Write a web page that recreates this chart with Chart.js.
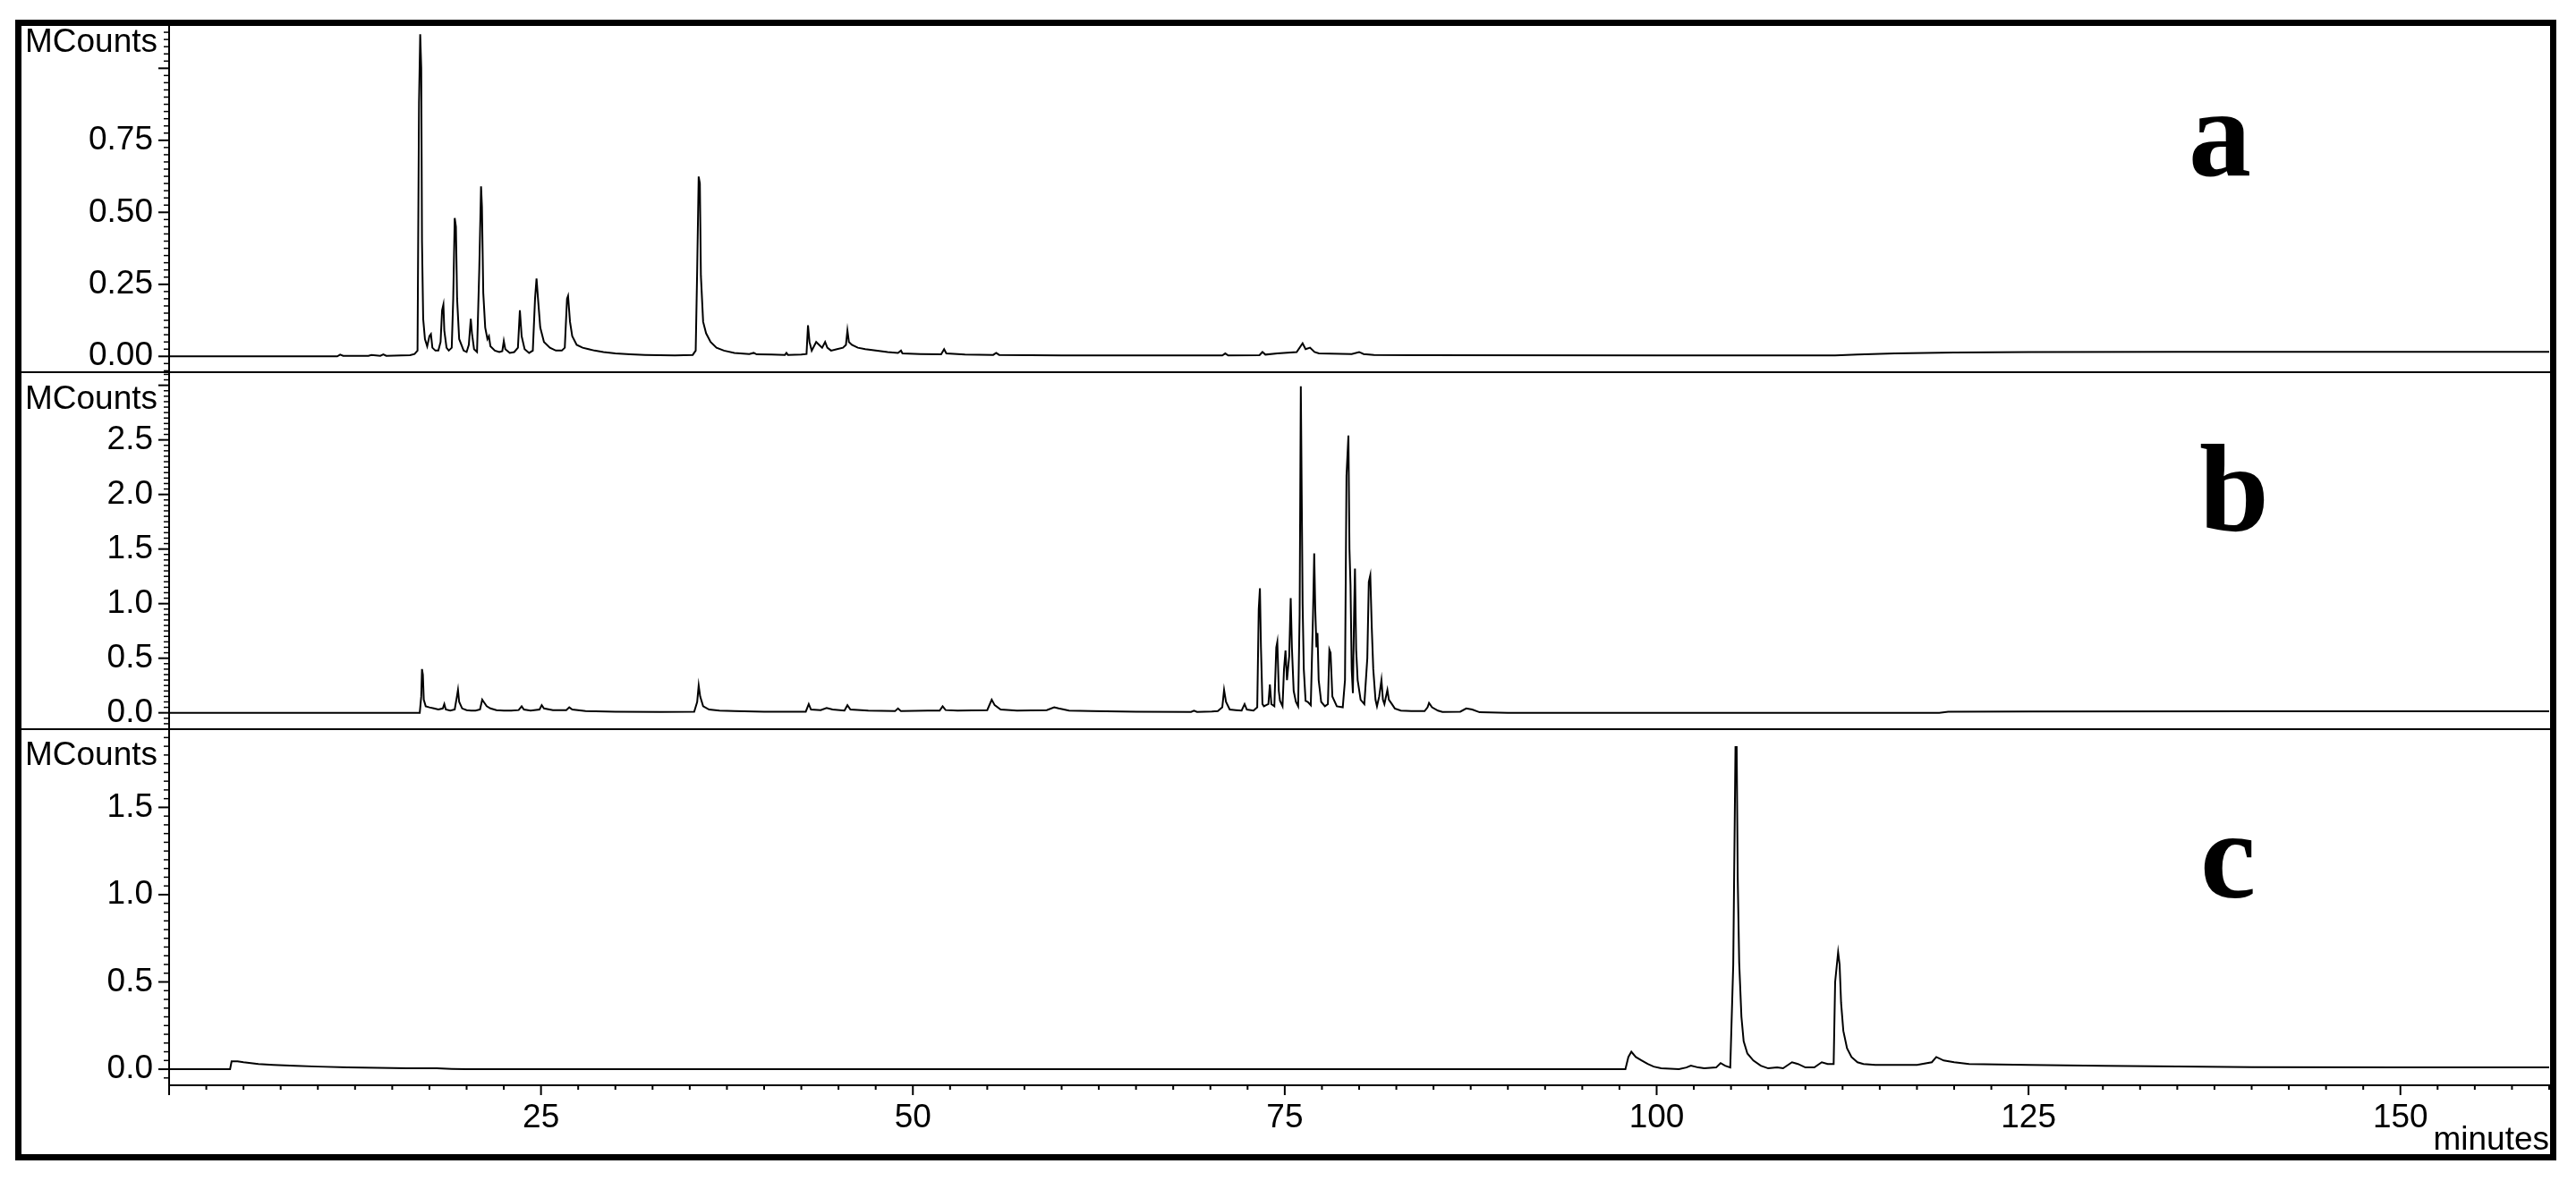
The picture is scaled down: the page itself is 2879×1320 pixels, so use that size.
<!DOCTYPE html>
<html>
<head>
<meta charset="utf-8">
<script src="https://cdn.jsdelivr.net/npm/chart.js@4.4.1/dist/chart.umd.min.js"></script>
<style>
  html, body { margin: 0; padding: 0; background: #fff; }
  #page { position: relative; width: 2879px; height: 1320px; overflow: hidden; }
  #page canvas { position: absolute; left: 24px; }
  #frame { position: absolute; left: 17px; top: 22px; width: 2840px; height: 1275px;
           border: 7px solid #000; box-sizing: border-box; pointer-events: none; z-index: 5; }
</style>
</head>
<body>
<div id="page">
  <canvas id="chart-a" width="2826" height="389" style="top:29px"></canvas>
  <canvas id="chart-b" width="2826" height="401" style="top:416px"></canvas>
  <canvas id="chart-c" width="2826" height="482" style="top:815px"></canvas>
  <div id="frame"></div>
</div>
<script>
// [retention time (min), signal (MCounts)]
const traceA = [
  [0, 0], [11.3, 0], [11.5, 0.006], [11.7, 0.002], [13.4, 0.002], [13.6, 0.005], [14.2, 0.002],
  [14.4, 0.007], [14.6, 0.002], [15.6, 0.003], [16.2, 0.004], [16.5, 0.008],
  [16.7, 0.02], [16.8, 0.88], [16.88, 1.118], [16.95, 1.0], [17.0, 0.4], [17.08, 0.13], [17.2, 0.06],
  [17.35, 0.035], [17.5, 0.07], [17.6, 0.077], [17.7, 0.03], [17.9, 0.02], [18.1, 0.02],
  [18.25, 0.05], [18.35, 0.16], [18.44, 0.18], [18.5, 0.09], [18.65, 0.03], [18.8, 0.02],
  [19.0, 0.03], [19.1, 0.2], [19.2, 0.48], [19.28, 0.45], [19.36, 0.2], [19.5, 0.06], [19.8, 0.02],
  [20.0, 0.015], [20.15, 0.04], [20.28, 0.13], [20.36, 0.08], [20.5, 0.025], [20.7, 0.015],
  [20.85, 0.3], [20.97, 0.59], [21.03, 0.52], [21.12, 0.22], [21.25, 0.1], [21.4, 0.06],
  [21.5, 0.07], [21.6, 0.035], [21.9, 0.02], [22.2, 0.015], [22.4, 0.018], [22.5, 0.053],
  [22.6, 0.025], [22.9, 0.012], [23.2, 0.015], [23.45, 0.03], [23.58, 0.16], [23.7, 0.07],
  [23.9, 0.025], [24.2, 0.012], [24.45, 0.02], [24.6, 0.2], [24.7, 0.27], [24.8, 0.2],
  [24.95, 0.1], [25.2, 0.05], [25.6, 0.03], [26.0, 0.02], [26.4, 0.02], [26.6, 0.03],
  [26.75, 0.2], [26.82, 0.21], [26.95, 0.12], [27.1, 0.07], [27.4, 0.04], [27.8, 0.03],
  [28.2, 0.025], [28.6, 0.02], [29.2, 0.015], [30.0, 0.01], [31.0, 0.007], [32.0, 0.005],
  [34.0, 0.003], [35.2, 0.005], [35.4, 0.02], [35.5, 0.3], [35.6, 0.624], [35.68, 0.6],
  [35.75, 0.28], [35.9, 0.12], [36.1, 0.08], [36.4, 0.05], [36.8, 0.03], [37.3, 0.02],
  [38.0, 0.012], [39.0, 0.008], [39.3, 0.012], [39.5, 0.007], [40.5, 0.006], [41.4, 0.005],
  [41.5, 0.012], [41.6, 0.005], [42.5, 0.006], [42.85, 0.008], [42.95, 0.108], [43.05, 0.05],
  [43.2, 0.02], [43.5, 0.05], [43.7, 0.04], [43.9, 0.03], [44.1, 0.05], [44.25, 0.03],
  [44.5, 0.02], [44.9, 0.025], [45.3, 0.03], [45.5, 0.04], [45.6, 0.09], [45.7, 0.05],
  [45.9, 0.04], [46.3, 0.03], [46.8, 0.025], [47.5, 0.02], [48.3, 0.015], [49.0, 0.012],
  [49.2, 0.02], [49.3, 0.01], [50.5, 0.008], [51.9, 0.007], [52.1, 0.025], [52.25, 0.01],
  [53.5, 0.006], [55.4, 0.005], [55.6, 0.012], [55.8, 0.005], [60.0, 0.003], [70.8, 0.003],
  [71.0, 0.01], [71.2, 0.003], [73.3, 0.004], [73.5, 0.015], [73.7, 0.006], [74.5, 0.01],
  [75.8, 0.015], [76.2, 0.045], [76.4, 0.025], [76.7, 0.03], [77.0, 0.015], [77.3, 0.01],
  [79.5, 0.008], [80.0, 0.015], [80.3, 0.008], [81.0, 0.005], [84.0, 0.004], [100, 0.003],
  [112, 0.003], [113.5, 0.006], [116, 0.01], [120, 0.013], [125, 0.015], [135, 0.016], [160, 0.016]
];

const traceB = [
  [0, 0], [16.85, 0], [16.95, 0.15], [17.0, 0.4], [17.06, 0.35], [17.12, 0.12], [17.25, 0.06],
  [17.5, 0.05], [17.8, 0.04], [18.1, 0.03], [18.4, 0.04], [18.5, 0.08], [18.6, 0.03], [18.9, 0.02],
  [19.2, 0.03], [19.35, 0.15], [19.42, 0.21], [19.5, 0.1], [19.7, 0.04], [20.0, 0.025],
  [20.3, 0.02], [20.6, 0.02], [20.9, 0.03], [21.05, 0.12], [21.15, 0.1], [21.35, 0.06],
  [21.6, 0.04], [22.0, 0.025], [22.5, 0.02], [23.0, 0.02], [23.5, 0.025], [23.7, 0.06],
  [23.85, 0.03], [24.3, 0.02], [24.9, 0.03], [25.05, 0.07], [25.2, 0.04], [25.8, 0.025],
  [26.7, 0.025], [26.9, 0.05], [27.1, 0.03], [28.0, 0.015], [30, 0.01], [33, 0.008],
  [35.3, 0.01], [35.5, 0.1], [35.6, 0.25], [35.7, 0.15], [35.9, 0.06], [36.3, 0.03], [37, 0.02],
  [38, 0.015], [40, 0.01], [42.8, 0.01], [43.0, 0.08], [43.15, 0.03], [43.8, 0.025],
  [44.2, 0.045], [44.6, 0.03], [45.4, 0.02], [45.6, 0.07], [45.8, 0.03], [47, 0.02],
  [48.8, 0.015], [49.0, 0.04], [49.2, 0.015], [51, 0.02], [51.8, 0.02], [52.0, 0.06],
  [52.2, 0.025], [53, 0.02], [55.0, 0.025], [55.3, 0.12], [55.5, 0.07], [55.9, 0.03],
  [57, 0.02], [59, 0.025], [59.5, 0.05], [59.8, 0.04], [60.5, 0.02], [62, 0.015], [65, 0.01],
  [68.7, 0.008], [68.9, 0.02], [69.1, 0.008], [70.1, 0.012], [70.5, 0.015], [70.8, 0.05],
  [70.92, 0.21], [71.05, 0.1], [71.3, 0.03], [71.7, 0.025], [72.1, 0.02], [72.3, 0.08],
  [72.45, 0.03], [72.9, 0.02], [73.15, 0.05], [73.25, 0.95], [73.33, 1.14], [73.4, 0.6],
  [73.5, 0.08], [73.6, 0.06], [73.75, 0.07], [73.9, 0.08], [74.0, 0.26], [74.1, 0.08],
  [74.3, 0.06], [74.43, 0.6], [74.5, 0.65], [74.6, 0.2], [74.68, 0.11], [74.85, 0.06],
  [74.95, 0.4], [75.05, 0.57], [75.15, 0.3], [75.3, 0.52], [75.4, 1.05], [75.48, 0.6],
  [75.6, 0.2], [75.75, 0.1], [75.9, 0.06], [76.0, 0.9], [76.08, 2.99], [76.14, 2.0],
  [76.2, 1.0], [76.28, 0.4], [76.4, 0.11], [76.55, 0.1], [76.75, 0.07], [76.9, 0.9],
  [76.98, 1.46], [77.05, 0.95], [77.13, 0.6], [77.2, 0.73], [77.28, 0.3], [77.45, 0.1],
  [77.7, 0.06], [77.9, 0.08], [78.0, 0.58], [78.08, 0.55], [78.2, 0.15], [78.5, 0.06],
  [78.9, 0.05], [79.05, 0.3], [79.15, 2.17], [79.28, 2.54], [79.35, 1.5], [79.42, 1.17],
  [79.5, 0.4], [79.58, 0.18], [79.66, 0.9], [79.72, 1.32], [79.8, 0.58], [79.9, 0.3],
  [80.1, 0.12], [80.35, 0.08], [80.55, 0.5], [80.65, 1.2], [80.75, 1.26], [80.85, 0.78],
  [80.95, 0.4], [81.1, 0.12], [81.2, 0.06], [81.35, 0.15], [81.5, 0.3], [81.6, 0.12],
  [81.7, 0.08], [81.9, 0.21], [82.0, 0.12], [82.2, 0.08], [82.4, 0.04], [82.8, 0.02],
  [83.5, 0.015], [84.4, 0.015], [84.6, 0.05], [84.7, 0.09], [84.9, 0.05], [85.3, 0.02],
  [85.6, 0.008], [86.8, 0.01], [87.2, 0.04], [87.6, 0.03], [88.1, 0.005], [90, 0],
  [119, 0], [119.6, 0.01], [125, 0.012], [140, 0.013], [160, 0.013]
];

const traceC = [
  [0, 0], [4.1, 0], [4.2, 0.045], [4.6, 0.045], [5.0, 0.04], [5.5, 0.035], [6.0, 0.03],
  [7.0, 0.025], [8.5, 0.02], [10.0, 0.015], [12, 0.01], [14, 0.008], [16, 0.006], [18, 0.005],
  [19, 0.002], [20, 0], [97.9, 0], [98.1, 0.07], [98.3, 0.1], [98.6, 0.07], [99.0, 0.05],
  [99.4, 0.03], [99.8, 0.015], [100.3, 0.005], [101.5, 0], [102.0, 0.01], [102.3, 0.02],
  [102.8, 0.01], [103.2, 0.005], [104.0, 0.01], [104.3, 0.035], [104.6, 0.02], [104.95, 0.01],
  [105.15, 0.6], [105.3, 1.846], [105.38, 1.846], [105.45, 1.1], [105.55, 0.61], [105.7, 0.3],
  [105.85, 0.16], [106.1, 0.09], [106.5, 0.05], [107.0, 0.02], [107.5, 0.005], [108.1, 0.01],
  [108.5, 0.005], [109.1, 0.04], [109.5, 0.03], [110.0, 0.01], [110.6, 0.01], [111.1, 0.04],
  [111.5, 0.03], [111.9, 0.03], [112.0, 0.5], [112.2, 0.67], [112.3, 0.6], [112.4, 0.38],
  [112.55, 0.22], [112.8, 0.12], [113.1, 0.07], [113.5, 0.04], [113.9, 0.03], [114.7, 0.025],
  [116, 0.025], [117.5, 0.025], [118.5, 0.04], [118.8, 0.07], [119.3, 0.05], [120.0, 0.04],
  [121, 0.03], [125, 0.025], [130, 0.02], [140, 0.012], [150, 0.01], [160, 0.01]
];

// labelled ticks
const aTicks = [0, 0.25, 0.5, 0.75];
const bTicks = [0, 0.5, 1.0, 1.5, 2.0, 2.5];
const cTicks = [0, 0.5, 1.0, 1.5];
const xTicks = [25, 50, 75, 100, 125, 150];
const panelNames = ['a', 'b', 'c'];
const unitLabel = 'MCounts';
const xTitle = 'minutes';

Chart.defaults.font.family = '"Liberation Sans", Arial, sans-serif';
Chart.defaults.color = '#000';

// minor/major tick marks, panel separators, unit label and panel letter
const panelDecor = {
    id: 'panelDecor',
    afterDraw(chart, args, opts) {
        const ctx = chart.ctx;
        const area = chart.chartArea;
        const y = chart.scales.y;
        const x = chart.scales.x;
        ctx.save();
        ctx.strokeStyle = '#000';

        for (let i = Math.ceil(y.min / opts.yMinor); i * opts.yMinor <= y.max + 1e-9; i++) {
            const major = i % 10 === 0;
            const py = y.getPixelForValue(i * opts.yMinor);
            ctx.lineWidth = major ? 2 : 1.5;
            ctx.beginPath();
            ctx.moveTo(area.left - (major ? 12 : 6), py);
            ctx.lineTo(area.left, py);
            ctx.stroke();
        }

        if (opts.separator) {
            ctx.lineWidth = 2;
            ctx.beginPath();
            ctx.moveTo(0, area.bottom);
            ctx.lineTo(chart.width, area.bottom);
            ctx.stroke();
        }

        if (opts.xAxis) {
            for (let i = 0; i * 2.5 <= x.max + 1e-9; i++) {
                const major = i % 10 === 0;
                const px = x.getPixelForValue(i * 2.5);
                ctx.lineWidth = 2;
                ctx.beginPath();
                ctx.moveTo(px, area.bottom);
                ctx.lineTo(px, area.bottom + (major ? 11 : 5));
                ctx.stroke();
            }
        }

        ctx.fillStyle = '#000';
        ctx.font = '37px "Liberation Sans", Arial, sans-serif';
        ctx.textAlign = 'right';
        ctx.textBaseline = 'alphabetic';
        ctx.fillText(unitLabel, area.left - 13, opts.unitY);

        ctx.font = 'bold 140px "Liberation Serif", "Times New Roman", serif';
        ctx.textAlign = 'center';
        ctx.fillText(opts.letter, opts.letterX, opts.letterY);
        ctx.restore();
    }
};

function makePanel(id, trace, yMin, yMax, labelTicks, decimals, decor, showX) {
    return new Chart(document.getElementById(id), {
        type: 'line',
        data: {
            datasets: [{
                data: trace.map(p => ({ x: p[0], y: p[1] })),
                borderColor: '#000',
                borderWidth: 2,
                pointRadius: 0,
                tension: 0,
                fill: false
            }]
        },
        options: {
            responsive: false,
            animation: false,
            devicePixelRatio: 1,
            layout: { padding: { left: 0, right: 1, top: 0, bottom: showX ? 0 : 2 } },
            plugins: {
                legend: { display: false },
                tooltip: { enabled: false },
                panelDecor: decor
            },
            scales: {
                x: {
                    type: 'linear',
                    min: 0,
                    max: 160,
                    display: showX,
                    afterBuildTicks: s => { s.ticks = xTicks.map(v => ({ value: v })); },
                    afterFit: s => {
                        s.height = showX ? 84 : 0;
                        s.paddingLeft = 0;
                        s.paddingRight = 0;
                    },
                    ticks: { padding: 15, maxRotation: 0, autoSkip: false, font: { size: 37 }, color: '#000' },
                    grid: { display: false, drawTicks: false },
                    border: { display: true, color: '#000', width: 2 },
                    title: {
                        display: true,
                        text: xTitle,
                        align: 'end',
                        color: '#000',
                        font: { size: 37, lineHeight: 1 },
                        padding: { top: 0, bottom: 4 }
                    }
                },
                y: {
                    type: 'linear',
                    min: yMin,
                    max: yMax,
                    afterBuildTicks: s => { s.ticks = labelTicks.map(v => ({ value: v })); },
                    afterFit: s => { s.width = 165; s.paddingTop = 0; s.paddingBottom = 0; },
                    ticks: {
                        padding: 18,
                        autoSkip: false,
                        font: { size: 37 },
                        color: '#000',
                        callback: v => Number(v).toFixed(decimals)
                    },
                    grid: { display: false, drawTicks: false },
                    border: { display: true, color: '#000', width: 2 }
                }
            }
        },
        plugins: [panelDecor]
    });
}

makePanel('chart-a', traceA, -0.055, 1.147, aTicks, 2,
    { yMinor: 0.025, separator: true, xAxis: false, unitY: 29, letter: panelNames[0], letterX: 2457, letterY: 167 }, false);
makePanel('chart-b', traceB, -0.15, 3.12, bTicks, 1,
    { yMinor: 0.05, separator: true, xAxis: false, unitY: 41, letter: panelNames[1], letterX: 2473, letterY: 177 }, false);
makePanel('chart-c', traceC, -0.092, 1.948, cTicks, 1,
    { yMinor: 0.05, separator: false, xAxis: true, unitY: 40, letter: panelNames[2], letterX: 2466, letterY: 188 }, true);
</script>
</body>
</html>
